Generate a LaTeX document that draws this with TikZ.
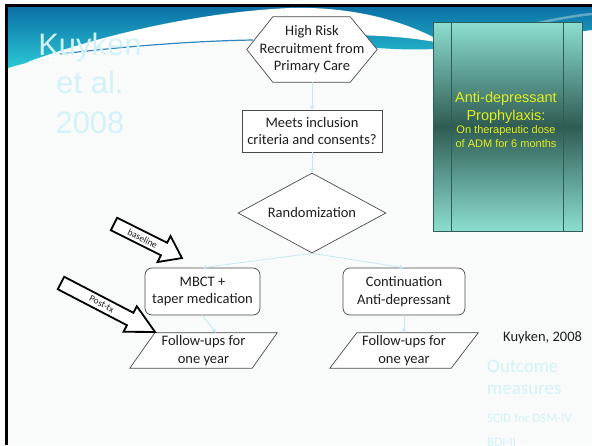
\documentclass[tikz,border=0pt]{standalone}
\usepackage{fontspec}
\setmainfont{Carlito}
\newfontfamily\arialf{Liberation Sans}
\usetikzlibrary{shapes.geometric,calc,arrows.meta}
\definecolor{hdrtop}{HTML}{0B6FA5}
\definecolor{hdrbot}{HTML}{2BC8D4}
\definecolor{ghost}{HTML}{D3F2F8}
\definecolor{connc}{HTML}{C2E8F2}
\definecolor{adlight}{HTML}{8CDED0}
\definecolor{addark}{HTML}{2F5C53}
\definecolor{adedge}{HTML}{2C5F57}
\definecolor{adtext}{HTML}{E4EE1C}
\definecolor{ink}{HTML}{1E1E1E}
\definecolor{edge}{HTML}{4A4A4A}
\definecolor{pagebg}{HTML}{F9FAFA}
\definecolor{streak}{HTML}{2F86C0}
\pgfdeclarelayer{deco}
\pgfdeclarelayer{frames}
\pgfsetlayers{deco,frames,main}
\begin{document}
\begin{tikzpicture}[x=1pt,y=-1pt,
  flow/.style={font=\fontsize{14.5}{17.5}\selectfont, text=ink, align=center, inner sep=0pt},
  boxline/.style={draw=edge, line width=0.7pt, fill=white},
  conn/.style={draw=connc, line width=0.7pt, -{Stealth[length=4.5pt,width=4pt]}},
  ghosttext/.style={text=ghost, inner sep=0pt},
  blockarrow/.style={draw=black, line width=1.8pt, fill=white, line join=miter},
  arrowlabel/.style={font=\fontsize{9.5}{10}\selectfont, text=ink, inner sep=0pt},
  adline/.style={text=adtext, inner sep=0pt},
]
\useasboundingbox (0,0) rectangle (592,445);
\clip (0,0) rectangle (592,445);

\begin{pgfonlayer}{deco}
  \fill[white] (0,0) rectangle (592,445);
  \fill[pagebg] (8,6) rectangle (592,445);
  % header band
  \shade[top color=hdrtop, bottom color=hdrbot]
    (8,6) -- (592,6) -- (592,30)
    .. controls (550,35) and (500,45) .. (433,49)
    .. controls (380,52) and (320,40) .. (253,40)
    .. controls (150,42) and (60,52) .. (8,68) -- cycle;
  % white swoosh
  \fill[white] (25,63) .. controls (100,35) and (200,12) .. (290,8)
    .. controls (360,6) and (415,25) .. (445,44)
    .. controls (400,34) and (330,32) .. (253,40)
    .. controls (150,45) and (80,52) .. (40,60) -- cycle;
  \draw[streak, line width=1.2pt] (60,54) .. controls (120,47) and (190,41) .. (253,40);
  \draw[white, opacity=0.35, line width=2.5pt] (500,32) .. controls (540,22) and (570,16) .. (592,14);
  % frame
  \draw[black, line width=3pt] (6.5,445) -- (6.5,5.5) -- (592,5.5);
\end{pgfonlayer}

% ghost title
\node[ghosttext, font=\arialf\fontsize{31}{39}\selectfont, anchor=base] (ttl1) at (90,55) {Kuyken};
\node[ghosttext, font=\arialf\fontsize{31}{39}\selectfont, anchor=base] (ttl2) at (90,93) {et al.};
\node[ghosttext, font=\arialf\fontsize{31}{39}\selectfont, anchor=base] (ttl3) at (90,133) {2008};

% anti-depressant panel
\node[draw=adedge, line width=1pt, top color=adlight, bottom color=adlight, middle color=addark,
      minimum width=149pt, minimum height=209pt, inner sep=0pt] (ad) at (507.5,126.5) {};
\draw[adedge, line width=0.9pt] ($(ad.north west)+(19,0)$) -- ($(ad.south west)+(19,0)$);
\draw[adedge, line width=0.9pt] ($(ad.north east)+(-19,0)$) -- ($(ad.south east)+(-19,0)$);
\node[adline, font=\arialf\fontsize{14.5}{17}\selectfont, anchor=base] (ad1) at (506,102) {Anti-depressant};
\node[adline, font=\arialf\fontsize{14.5}{17}\selectfont, anchor=base] (ad2) at (506,120) {Prophylaxis:};
\node[adline, font=\arialf\fontsize{11}{13}\selectfont, anchor=base] (ad3) at (506,133) {On therapeutic dose};
\node[adline, font=\arialf\fontsize{11}{13}\selectfont, anchor=base] (ad4) at (506,147) {of ADM for 6 months};

% flowchart
\node[flow, minimum width=130pt, minimum height=65pt] (hex) at (312,49.5) {High Risk\\Recruitment from\\Primary Care};
\node[flow, boxline, minimum width=140pt, minimum height=42pt] (meet) at (312,131) {Meets inclusion\\criteria and consents?};
\node[flow, boxline, diamond, aspect=1.85, minimum width=148pt, minimum height=80pt] (rand) at (312,213) {Randomization};
\node[flow, boxline, rounded corners=7pt, minimum width=115pt, minimum height=47pt] (mbct) at (202.5,291.5) {MBCT +\\taper medication};
\node[flow, boxline, rounded corners=7pt, minimum width=122pt, minimum height=47pt] (cont) at (404,291.5) {Continuation\\Anti-depressant};
\node[flow, minimum width=122pt, minimum height=35pt] (fu1) at (203.5,350.5) {Follow-ups for\\one year};
\node[flow, minimum width=121pt, minimum height=35pt] (fu2) at (404,350.5) {Follow-ups for\\one year};

\begin{pgfonlayer}{frames}
  \draw[boxline] (hex.west) -- ($(hex.north west)+(26,0)$) -- ($(hex.north east)+(-27,0)$)
    -- (hex.east) -- ($(hex.south east)+(-27,0)$) -- ($(hex.south west)+(26,0)$) -- cycle;
  \draw[boxline] ($(fu1.north west)+(12.5,0)$) -- ($(fu1.north east)+(12.5,0)$)
    -- ($(fu1.south east)+(-12.5,0)$) -- ($(fu1.south west)+(-12.5,0)$) -- cycle;
  \draw[boxline] ($(fu2.north west)+(13.5,0)$) -- ($(fu2.north east)+(13.5,0)$)
    -- ($(fu2.south east)+(-13.5,0)$) -- ($(fu2.south west)+(-13.5,0)$) -- cycle;
\end{pgfonlayer}

\draw[conn] (hex.south) -- (meet.north);
\draw[conn] (meet.south) -- (rand.north);
\draw[conn] (rand.south) -- (mbct.north);
\draw[conn] (rand.south) -- (cont.north);
\draw[conn] (mbct.south) -- ($(fu1.north)+(12.5,0)$);
\draw[conn] (cont.south) -- (fu2.north);

% block arrows
\begin{scope}[shift={(114,224)}, rotate=-26.6]
  \draw[blockarrow] (0,-7) -- (56,-7) -- (56,-14.5) -- (76,0) -- (56,14.5) -- (56,7) -- (0,7) -- cycle;
  \node[arrowlabel, rotate=-26.6] (lblbase) at (32,0) {baseline};
\end{scope}
\begin{scope}[shift={(61,283)}, rotate=-27.5]
  \draw[blockarrow] (0,-7) -- (78,-7) -- (78,-14.4) -- (106,0) -- (78,14.4) -- (78,7) -- (0,7) -- cycle;
  \node[arrowlabel, rotate=-27.5] (lblpost) at (46,0) {Post-tx};
\end{scope}

% right side texts
\node[flow, anchor=base west] (cite) at (503,341) {Kuyken, 2008};
\node[ghosttext, font=\fontsize{19}{22}\selectfont, anchor=base west] (om1) at (487,372) {Outcome};
\node[ghosttext, font=\fontsize{19}{22}\selectfont, anchor=base west] (om2) at (487,394) {measures};
\node[ghosttext, font=\fontsize{13}{16}\selectfont, anchor=base west] (om3) at (487,422) {SCID for DSM-IV};
\node[ghosttext, font=\fontsize{13}{16}\selectfont, anchor=base west] (om4) at (487,446) {BDI-II};
\end{tikzpicture}
\end{document}
